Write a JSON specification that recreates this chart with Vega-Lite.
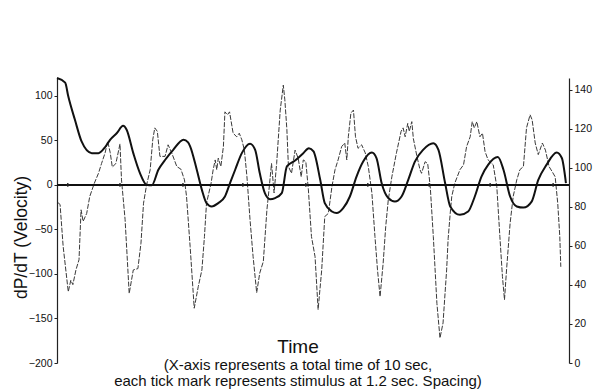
{
  "$schema": "https://vega.github.io/schema/vega-lite/v6.json",
  "width": 512,
  "height": 285,
  "autosize": {"type": "none"},
  "padding": {"left": 57, "top": 78, "right": 25, "bottom": 27},
  "background": "white",
  "config": {
    "view": {"stroke": null},
    "font": "Liberation Sans",
    "axis": {"labelFont": "Liberation Sans", "titleFont": "Liberation Sans", "labelColor": "#111", "titleColor": "#111", "domainColor": "#222", "tickColor": "#222", "grid": false}
  },
  "title": {
    "text": "Time",
    "subtitle": ["(X-axis represents a total time of 10 sec,", "each tick mark represents stimulus at 1.2 sec. Spacing)"],
    "orient": "bottom",
    "anchor": "middle",
    "offset": -31,
    "dx": -15,
    "fontSize": 19,
    "fontWeight": "normal",
    "color": "#111",
    "font": "Liberation Sans",
    "subtitleFont": "Liberation Sans",
    "subtitleFontSize": 15,
    "subtitleColor": "#111",
    "subtitlePadding": 1,
    "subtitleLineHeight": 16.5
  },
  "datasets": {
    "pressure": [
      {"t": 0.00, "p": 146}, {"t": 0.16, "p": 143.6}, {"t": 0.22, "p": 136.6}, {"t": 0.35, "p": 124.6},
      {"t": 0.48, "p": 113.5}, {"t": 0.68, "p": 107.5}, {"t": 0.81, "p": 107.5}, {"t": 0.94, "p": 110.6},
      {"t": 1.04, "p": 114.4}, {"t": 1.17, "p": 117.8}, {"t": 1.29, "p": 121.5}, {"t": 1.36, "p": 119.5},
      {"t": 1.49, "p": 107.5}, {"t": 1.62, "p": 97.3}, {"t": 1.75, "p": 91.3}, {"t": 1.85, "p": 91.0},
      {"t": 1.98, "p": 99.0}, {"t": 2.11, "p": 104.0}, {"t": 2.27, "p": 109.2}, {"t": 2.47, "p": 114.4},
      {"t": 2.56, "p": 113.0}, {"t": 2.60, "p": 111.0}, {"t": 2.73, "p": 99.0}, {"t": 2.83, "p": 88.7},
      {"t": 2.92, "p": 81.9}, {"t": 3.02, "p": 80.2}, {"t": 3.15, "p": 81.9}, {"t": 3.28, "p": 85.3},
      {"t": 3.38, "p": 92.2}, {"t": 3.48, "p": 99.0}, {"t": 3.61, "p": 107.5}, {"t": 3.77, "p": 112.3},
      {"t": 3.87, "p": 109.2}, {"t": 3.96, "p": 97.3}, {"t": 4.06, "p": 87.0}, {"t": 4.16, "p": 83.9},
      {"t": 4.26, "p": 84.5}, {"t": 4.39, "p": 87.0}, {"t": 4.49, "p": 100.7}, {"t": 4.65, "p": 103.7},
      {"t": 4.81, "p": 107.5}, {"t": 4.92, "p": 110.0}, {"t": 5.01, "p": 108.4}, {"t": 5.14, "p": 94.0},
      {"t": 5.23, "p": 81.9}, {"t": 5.37, "p": 77.6}, {"t": 5.46, "p": 76.8}, {"t": 5.59, "p": 79.3},
      {"t": 5.72, "p": 85.3}, {"t": 5.85, "p": 95.5}, {"t": 5.98, "p": 103.2}, {"t": 6.15, "p": 107.8},
      {"t": 6.24, "p": 105.0}, {"t": 6.34, "p": 92.2}, {"t": 6.47, "p": 84.5}, {"t": 6.60, "p": 82.7},
      {"t": 6.73, "p": 85.3}, {"t": 6.86, "p": 93.8}, {"t": 6.99, "p": 103.2}, {"t": 7.15, "p": 109.2},
      {"t": 7.35, "p": 112.6}, {"t": 7.45, "p": 109.2}, {"t": 7.58, "p": 92.2}, {"t": 7.68, "p": 80.2},
      {"t": 7.87, "p": 75.9}, {"t": 8.03, "p": 77.6}, {"t": 8.16, "p": 85.3}, {"t": 8.29, "p": 95.5},
      {"t": 8.42, "p": 101.5}, {"t": 8.61, "p": 105.5}, {"t": 8.72, "p": 99.0}, {"t": 8.85, "p": 85.3},
      {"t": 8.98, "p": 80.2}, {"t": 9.11, "p": 79.6}, {"t": 9.27, "p": 82.7}, {"t": 9.40, "p": 93.8},
      {"t": 9.56, "p": 101.5}, {"t": 9.76, "p": 107.8}, {"t": 9.86, "p": 105.0}, {"t": 9.94, "p": 92.2}
    ],
    "velocity": [
      {"t": 0.02, "v": -20}, {"t": 0.06, "v": -22}, {"t": 0.12, "v": -69}, {"t": 0.22, "v": -120},
      {"t": 0.27, "v": -107}, {"t": 0.31, "v": -112}, {"t": 0.37, "v": -95.5}, {"t": 0.43, "v": -84},
      {"t": 0.47, "v": -28}, {"t": 0.51, "v": -41}, {"t": 0.58, "v": -32}, {"t": 0.64, "v": -13},
      {"t": 0.73, "v": 2}, {"t": 0.81, "v": 13}, {"t": 0.87, "v": 24}, {"t": 0.94, "v": 36},
      {"t": 0.99, "v": 49}, {"t": 1.04, "v": 36}, {"t": 1.08, "v": 20}, {"t": 1.15, "v": 24},
      {"t": 1.23, "v": 46}, {"t": 1.26, "v": 5.6}, {"t": 1.33, "v": -39}, {"t": 1.41, "v": -122},
      {"t": 1.49, "v": -95.5}, {"t": 1.58, "v": -94}, {"t": 1.64, "v": -65.5}, {"t": 1.69, "v": -20.6},
      {"t": 1.75, "v": 0}, {"t": 1.82, "v": 17}, {"t": 1.87, "v": 50.6}, {"t": 1.91, "v": 64},
      {"t": 1.96, "v": 60}, {"t": 2.01, "v": 32}, {"t": 2.11, "v": 32}, {"t": 2.17, "v": 45},
      {"t": 2.24, "v": 36}, {"t": 2.34, "v": 20.6}, {"t": 2.42, "v": 17.6}, {"t": 2.49, "v": 5.6},
      {"t": 2.53, "v": -13}, {"t": 2.60, "v": -69}, {"t": 2.68, "v": -138.5}, {"t": 2.76, "v": -114},
      {"t": 2.83, "v": -95.5}, {"t": 2.88, "v": -58}, {"t": 2.92, "v": -20.6}, {"t": 3.01, "v": 2},
      {"t": 3.05, "v": 17}, {"t": 3.09, "v": 28}, {"t": 3.12, "v": 17}, {"t": 3.15, "v": 30},
      {"t": 3.20, "v": 20.6}, {"t": 3.25, "v": 43}, {"t": 3.28, "v": 82}, {"t": 3.33, "v": 78.7},
      {"t": 3.37, "v": 82}, {"t": 3.44, "v": 58}, {"t": 3.51, "v": 54}, {"t": 3.56, "v": 58},
      {"t": 3.61, "v": 50.6}, {"t": 3.66, "v": 39}, {"t": 3.71, "v": 9}, {"t": 3.77, "v": -39},
      {"t": 3.83, "v": -80.6}, {"t": 3.90, "v": -121}, {"t": 3.96, "v": -99}, {"t": 4.03, "v": -86},
      {"t": 4.10, "v": -28}, {"t": 4.14, "v": -5.6}, {"t": 4.19, "v": 24}, {"t": 4.24, "v": -9},
      {"t": 4.29, "v": 24}, {"t": 4.36, "v": 84}, {"t": 4.42, "v": 112}, {"t": 4.45, "v": 95.5},
      {"t": 4.49, "v": 62}, {"t": 4.52, "v": 20.6}, {"t": 4.58, "v": 13}, {"t": 4.65, "v": 39},
      {"t": 4.71, "v": 30}, {"t": 4.77, "v": 9}, {"t": 4.81, "v": 28}, {"t": 4.86, "v": 26},
      {"t": 4.91, "v": -5.6}, {"t": 4.97, "v": -58}, {"t": 5.04, "v": -80.6}, {"t": 5.10, "v": -140},
      {"t": 5.17, "v": -95.5}, {"t": 5.23, "v": -35.6}, {"t": 5.30, "v": -32}, {"t": 5.37, "v": -2},
      {"t": 5.43, "v": 17}, {"t": 5.49, "v": 28}, {"t": 5.56, "v": 43}, {"t": 5.62, "v": 47},
      {"t": 5.66, "v": 28}, {"t": 5.69, "v": 54}, {"t": 5.74, "v": 80.6}, {"t": 5.79, "v": 84},
      {"t": 5.83, "v": 54}, {"t": 5.88, "v": 41}, {"t": 5.95, "v": 45}, {"t": 6.02, "v": 36},
      {"t": 6.08, "v": 20.6}, {"t": 6.15, "v": -9}, {"t": 6.21, "v": -58}, {"t": 6.26, "v": -95.5},
      {"t": 6.31, "v": -125.5}, {"t": 6.37, "v": -88}, {"t": 6.42, "v": -47}, {"t": 6.47, "v": -17},
      {"t": 6.54, "v": 9}, {"t": 6.63, "v": 36}, {"t": 6.72, "v": 60}, {"t": 6.76, "v": 64},
      {"t": 6.80, "v": 54}, {"t": 6.85, "v": 69}, {"t": 6.88, "v": 60}, {"t": 6.93, "v": 71},
      {"t": 6.96, "v": 52}, {"t": 7.03, "v": 32}, {"t": 7.09, "v": 17}, {"t": 7.12, "v": 13},
      {"t": 7.19, "v": 26}, {"t": 7.24, "v": 24}, {"t": 7.29, "v": -2}, {"t": 7.35, "v": -58},
      {"t": 7.42, "v": -133}, {"t": 7.48, "v": -172}, {"t": 7.54, "v": -155}, {"t": 7.61, "v": -95.5},
      {"t": 7.64, "v": -60}, {"t": 7.68, "v": -32}, {"t": 7.71, "v": -13}, {"t": 7.77, "v": 2},
      {"t": 7.87, "v": 17}, {"t": 7.94, "v": 22.5}, {"t": 8.00, "v": 43}, {"t": 8.07, "v": 54},
      {"t": 8.11, "v": 71}, {"t": 8.15, "v": 64}, {"t": 8.20, "v": 71}, {"t": 8.26, "v": 54},
      {"t": 8.31, "v": 58}, {"t": 8.36, "v": 37.5}, {"t": 8.42, "v": 28}, {"t": 8.52, "v": 22.5},
      {"t": 8.59, "v": -2}, {"t": 8.65, "v": -58}, {"t": 8.70, "v": -103}, {"t": 8.74, "v": -129},
      {"t": 8.78, "v": -95.5}, {"t": 8.85, "v": -43}, {"t": 8.91, "v": -13}, {"t": 8.98, "v": 5.6},
      {"t": 9.04, "v": 17}, {"t": 9.11, "v": 20.6}, {"t": 9.17, "v": 64}, {"t": 9.24, "v": 78.7},
      {"t": 9.28, "v": 73}, {"t": 9.34, "v": 47}, {"t": 9.40, "v": 34}, {"t": 9.48, "v": 47},
      {"t": 9.54, "v": 39}, {"t": 9.61, "v": 20.6}, {"t": 9.67, "v": 15}, {"t": 9.73, "v": 9},
      {"t": 9.78, "v": -20.6}, {"t": 9.82, "v": -58}, {"t": 9.84, "v": -92}
    ],
    "stim": [
      {"t": 0.21, "v": 0}, {"t": 1.23, "v": 0}, {"t": 2.46, "v": 0}, {"t": 3.63, "v": 0},
      {"t": 4.86, "v": 0}, {"t": 6.07, "v": 0}, {"t": 7.27, "v": 0}, {"t": 8.46, "v": 0}, {"t": 9.69, "v": 0}
    ]
  },
  "layer": [
    {
      "layer": [
        {
          "data": {"name": "velocity"},
          "mark": {"type": "line", "color": "#3a3a3a", "strokeWidth": 1, "strokeDash": [5, 1.5], "interpolate": "linear"},
          "encoding": {
            "x": {"field": "t", "type": "quantitative", "scale": {"domain": [0, 10]}, "axis": null},
            "y": {"field": "v", "type": "quantitative", "scale": {"domain": [-200, 120], "nice": false, "zero": false},
              "axis": {"orient": "left", "title": "dP/dT (Velocity)", "values": [-200, -150, -100, -50, 0, 50, 100],
                "labelFontSize": 10.5, "tickSize": 3, "labelPadding": 2, "domainWidth": 1.2,
                "titleFontSize": 17.5, "titleFontWeight": "normal", "titleX": -36, "titleY": 159, "titleAngle": -90, "titleAlign": "center", "titleBaseline": "middle"}}
          }
        },
        {
          "data": {"name": "stim"},
          "mark": {"type": "rule", "color": "#111", "strokeWidth": 1.5},
          "encoding": {
            "y": {"datum": 0, "type": "quantitative"}
          }
        },
        {
          "data": {"name": "stim"},
          "mark": {"type": "point", "shape": "cross", "size": 14, "color": "#222", "filled": true, "opacity": 0.9},
          "encoding": {
            "x": {"field": "t", "type": "quantitative"},
            "y": {"field": "v", "type": "quantitative"}
          }
        }
      ]
    },
    {
      "data": {"name": "pressure"},
      "mark": {"type": "line", "color": "#111", "strokeWidth": 2, "interpolate": "monotone"},
      "encoding": {
        "x": {"field": "t", "type": "quantitative"},
        "y": {"field": "p", "type": "quantitative", "scale": {"domain": [0, 146], "nice": false},
          "axis": {"orient": "right", "title": null, "values": [0, 20, 40, 60, 80, 100, 120, 140], "labelFontSize": 10.5, "tickSize": 3, "labelPadding": 2, "domainWidth": 1.2}}
      }
    }
  ],
  "resolve": {"scale": {"y": "independent"}}
}
